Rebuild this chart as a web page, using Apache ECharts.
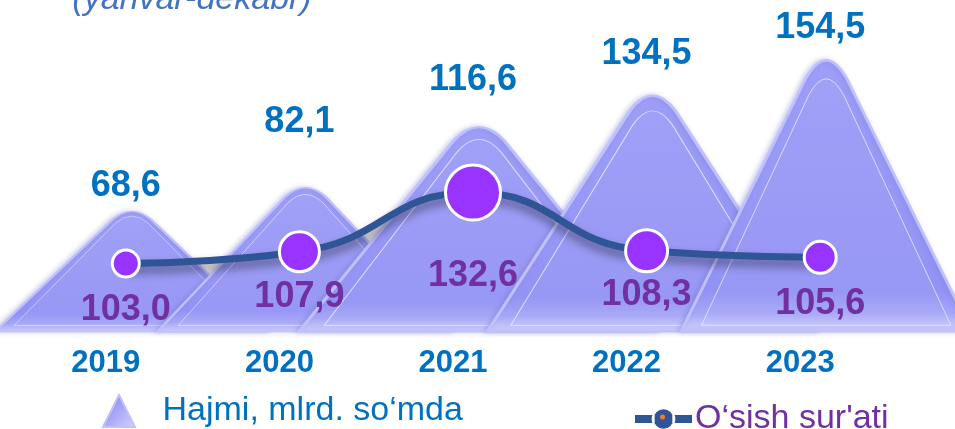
<!DOCTYPE html>
<html>
<head>
<meta charset="utf-8">
<script src="https://cdn.jsdelivr.net/npm/echarts@6/dist/echarts.min.js"></script>
<style>
  html, body { margin: 0; padding: 0; background: #ffffff; }
  #chart { width: 955px; height: 429px; }
</style>
</head>
<body>
<div id="chart"></div>
<script>
// ---- data ----
const categories = ['2019', '2020', '2021', '2022', '2023'];
const volume = [68.6, 82.1, 116.6, 134.5, 154.5];      // Hajmi, mlrd. so'mda
const growth = [103.0, 107.9, 132.6, 108.3, 105.6];    // O'sish sur'ati
const volumeName = 'Hajmi, mlrd. so\u2018mda';
const growthName = 'O\u2018sish sur\'ati';
const subtitle = '(yanvar-dekabr)';

// ---- styling (not data) ----
const mountainWidths = [274, 296, 360, 330, 290];
const markerSizes = [27, 40, 55, 42, 32];
const volumeLabelGap = [6, 46, 28, 22, 12];
const growthLabelGap = [14, 6, 36, 4, 11];
const FONT = "'Liberation Sans', Arial, sans-serif";
const mountainPath = 'path://M0,100 L43,8 Q50,-5 57,8 L100,100 Z';

const fmt = v => Number(v).toFixed(1).replace('.', ',');

const mountainFill = {
  type: 'linear', x: 0, y: 0, x2: 0, y2: 1,
  colorStops: [
    { offset: 0, color: '#9e9ef8' },
    { offset: 0.85, color: '#9393f5' },
    { offset: 0.93, color: '#a6a6f7' },
    { offset: 1, color: '#d4d4fc' }
  ]
};

const series = [];
categories.forEach((c, i) => {
  series.push({
    type: 'pictorialBar',
    name: volumeName,
    symbol: mountainPath,
    symbolPosition: 'start',
    symbolOffset: [6, 0],
    data: volume.map((v, j) => j === i ? {
      value: v,
      symbolSize: [mountainWidths[j], '100%'],
      label: { distance: volumeLabelGap[j] }
    } : '-'),
    itemStyle: {
      color: mountainFill,
      borderColor: '#c0c0fb',
      borderWidth: 4,
      shadowColor: 'rgba(110,110,200,0.3)',
      shadowBlur: 5,
      shadowOffsetX: -2
    },
    label: {
      show: true,
      position: 'top',
      formatter: p => fmt(p.value),
      color: '#0070c0',
      fontFamily: FONT,
      fontWeight: 'bold',
      fontSize: 36
    },
    z: 2
  });
  series.push({
    type: 'pictorialBar',
    name: 'hl' + i,
    symbol: mountainPath,
    symbolPosition: 'start',
    symbolOffset: [6, -7],
    silent: true,
    data: volume.map((v, j) => j === i ? { value: v, symbolSize: [mountainWidths[j] * 0.86, '91%'] } : '-'),
    itemStyle: {
      color: 'rgba(255,255,255,0.04)',
      borderColor: 'rgba(235,235,255,0.85)',
      borderWidth: 1.5
    },
    z: 2
  });
});

series.push({
  type: 'line',
  name: growthName,
  yAxisIndex: 1,
  smooth: 0.5,
  data: growth.map((v, i) => ({
    value: v,
    symbolSize: markerSizes[i],
    label: { distance: growthLabelGap[i] }
  })),
  symbol: 'circle',
  lineStyle: {
    color: '#2f5597',
    width: 7,
    shadowColor: 'rgba(0,0,0,0.45)',
    shadowBlur: 10,
    shadowOffsetY: 6
  },
  itemStyle: {
    color: '#9933ff',
    borderColor: '#ffffff',
    borderWidth: 3
  },
  label: {
    show: true,
    position: 'bottom',
    formatter: p => fmt(p.value),
    color: '#7030a0',
    fontFamily: FONT,
    fontWeight: 'bold',
    fontSize: 36
  },
  z: 10
});

const chart = echarts.init(document.getElementById('chart'), null, { renderer: 'canvas' });
chart.setOption({
  animation: false,
  backgroundColor: '#ffffff',
  grid: { left: 39, right: 48, top: 0, bottom: 96, containLabel: false },
  xAxis: {
    type: 'category',
    data: categories,
    axisLine: { show: false },
    axisTick: { show: false },
    axisLabel: {
      margin: 15,
      padding: [0, 40, 0, 0],
      color: '#0070c0',
      fontFamily: FONT,
      fontWeight: 'bold',
      fontSize: 31
    }
  },
  yAxis: [
    { type: 'value', min: 0, max: 190, show: false, splitLine: { show: false } },
    { type: 'value', min: 74, max: 213, show: false, splitLine: { show: false } }
  ],
  legend: [
    {
      left: 97, top: 389,
      data: [{ name: volumeName, itemStyle: { color: {
        type: 'linear', x: 0, y: 0, x2: 1, y2: 1,
        colorStops: [{ offset: 0, color: '#7b7bf0' }, { offset: 1, color: '#d5d5fc' }] } } }],
      icon: 'path://M50,0 L100,100 L0,100 Z',
      itemWidth: 33, itemHeight: 32,
      textStyle: { color: '#0070c0', fontFamily: FONT, fontSize: 34, padding: [0, 0, 0, 22] },
      selectedMode: false
    },
    {
      left: 628, top: 397,
      data: [{ name: growthName, itemStyle: { color: '#2f5597' } }],
      icon: 'path://M0,5 L20,5 L20,15 L0,15 Z M40,5 L60,5 L60,15 L40,15 Z M30,-1 A11,11 0 1 1 29.99,-1 Z',
      itemWidth: 59, itemHeight: 22,
      textStyle: { color: '#7030a0', fontFamily: FONT, fontSize: 34, padding: [0, 0, 0, -3] },
      selectedMode: false
    }
  ],
  graphic: [
    {
      type: 'circle',
      shape: { cx: 662.5, cy: 417, r: 2.5 },
      style: { fill: '#ed7d31' },
      z: 100
    },
    {
      type: 'text',
      x: 192, y: 0,
      style: {
        text: subtitle,
        fill: '#4472c4',
        font: "italic 34px 'Liberation Sans', Arial, sans-serif",
        align: 'center',
        verticalAlign: 'middle'
      }
    }
  ],
  series: series
});
</script>
</body>
</html>
